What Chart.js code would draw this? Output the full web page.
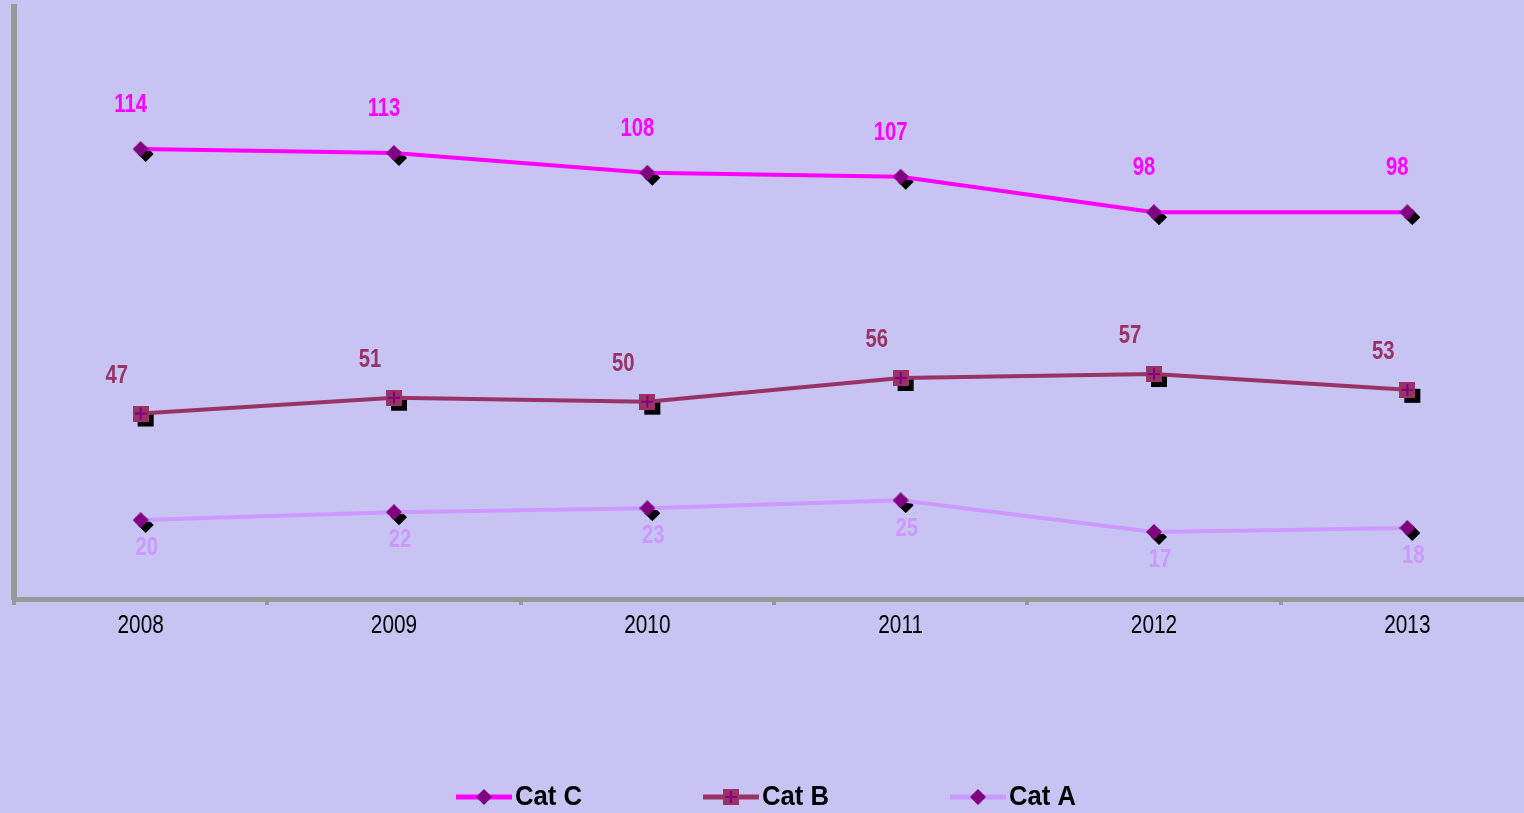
<!DOCTYPE html>
<html>
<head>
<meta charset="utf-8">
<title>Cat A / Cat B / Cat C 2008-2013</title>
<script src="https://cdn.jsdelivr.net/npm/chart.js@4.4.1/dist/chart.umd.min.js"></script>
<style>
  html, body { margin: 0; padding: 0; overflow: hidden; background: #c7c4f4; }
  canvas { display: block; }
</style>
</head>
<body>
<canvas id="catChart" width="1534" height="813"></canvas>
<script>
const years = ["2008", "2009", "2010", "2011", "2012", "2013"];
const catC = [114, 113, 108, 107, 98, 98];
const catB = [47, 51, 50, 56, 57, 53];
const catA = [20, 22, 23, 25, 17, 18];

const textFont = "'Liberation Sans', Arial, sans-serif";

// squeezed text, gives a narrow face out of Liberation Sans
function narrowText(ctx, text, x, y, size, bold, squeeze, color, align) {
    ctx.save();
    ctx.translate(x, y);
    ctx.scale(squeeze, 1);
    ctx.font = (bold ? 'bold ' : '') + size + 'px ' + textFont;
    ctx.fillStyle = color;
    ctx.textAlign = align;
    ctx.textBaseline = 'middle';
    ctx.fillText(text, 0, 0);
    ctx.restore();
}

function makeDiamond() {
    const c = document.createElement('canvas');
    c.width = 16;
    c.height = 16;
    const g = c.getContext('2d');
    g.fillStyle = '#800080';
    g.beginPath();
    g.moveTo(8, 0);
    g.lineTo(16, 8);
    g.lineTo(8, 16);
    g.lineTo(0, 8);
    g.closePath();
    g.fill();
    return c;
}

// square marker with a cross, used by Cat B
function makeCrossSquare() {
    const c = document.createElement('canvas');
    c.width = 16;
    c.height = 16;
    const g = c.getContext('2d');
    g.fillStyle = '#993366';
    g.fillRect(0, 0, 16, 16);
    g.fillStyle = '#800080';
    g.fillRect(7, 2, 2, 12);
    g.fillRect(2, 7, 12, 2);
    return c;
}
const diamond = makeDiamond();
const crossSquare = makeCrossSquare();

// black drop shadow behind every marker
const markerShadow = {
    id: 'markerShadow',
    beforeDatasetDraw(chart, args) {
        const ctx = chart.ctx;
        const ds = chart.data.datasets[args.index];
        ctx.save();
        ctx.fillStyle = '#000';
        args.meta.data.forEach(function(pt) {
            const x = pt.x + 5, y = pt.y + 5;
            if (ds.pointStyle === diamond) {
                ctx.beginPath();
                ctx.moveTo(x, y - 8);
                ctx.lineTo(x + 8, y);
                ctx.lineTo(x, y + 8);
                ctx.lineTo(x - 8, y);
                ctx.closePath();
                ctx.fill();
            } else {
                ctx.fillRect(x - 8, y - 6, 16, 14);
            }
        });
        ctx.restore();
    }
};

// value labels next to each point, plus the year labels under the axis
const chartText = {
    id: 'chartText',
    afterDatasetsDraw(chart) {
        const ctx = chart.ctx;
        chart.data.datasets.forEach(function(ds, i) {
            const meta = chart.getDatasetMeta(i);
            meta.data.forEach(function(pt, j) {
                narrowText(ctx, String(ds.data[j]), pt.x + ds.labelDx, pt.y + ds.labelDy,
                    26, true, 0.78, ds.labelColor, 'center');
            });
        });
        const xScale = chart.scales.x;
        chart.data.labels.forEach(function(lab, i) {
            narrowText(ctx, lab, xScale.getPixelForTick(i), 626, 26, false, 0.8, '#000', 'center');
        });
    }
};

// legend along the bottom: line sample with marker, then the name
const bottomLegend = {
    id: 'bottomLegend',
    afterDraw(chart) {
        const ctx = chart.ctx;
        const y = 797;
        ctx.save();
        chart.data.datasets.forEach(function(ds, i) {
            const x = 456 + i * 247;
            ctx.strokeStyle = ds.borderColor;
            ctx.lineWidth = 5;
            ctx.beginPath();
            ctx.moveTo(x, y);
            ctx.lineTo(x + 56, y);
            ctx.stroke();
            ctx.drawImage(ds.pointStyle, x + 20, y - 8);
            narrowText(ctx, ds.label, x + 59, y + 1, 27, true, 0.95, '#000', 'left');
        });
        ctx.restore();
    }
};

const chartData = {
    labels: years,
    datasets: [{
        label: 'Cat C',
        data: catC,
        borderColor: '#ff00ff',
        borderWidth: 4,
        pointStyle: diamond,
        pointRadius: 8,
        labelColor: '#ff00ff',
        labelDx: -10,
        labelDy: -44
    }, {
        label: 'Cat B',
        data: catB,
        borderColor: '#993366',
        borderWidth: 4,
        pointStyle: crossSquare,
        pointRadius: 8,
        labelColor: '#993366',
        labelDx: -24,
        labelDy: -38
    }, {
        label: 'Cat A',
        data: catA,
        borderColor: '#cc99ff',
        borderWidth: 4,
        pointStyle: diamond,
        pointRadius: 8,
        labelColor: '#cc99ff',
        labelDx: 6,
        labelDy: 28
    }]
};

new Chart(document.getElementById('catChart'), {
    type: 'line',
    data: chartData,
    plugins: [markerShadow, chartText, bottomLegend],
    options: {
        responsive: false,
        animation: false,
        layout: { autoPadding: false, padding: { top: 7, left: 0, right: 0, bottom: 0 } },
        plugins: {
            legend: { display: false },
            tooltip: { enabled: false }
        },
        elements: { line: { tension: 0 } },
        scales: {
            x: {
                offset: true,
                grid: {
                    offset: true,
                    drawOnChartArea: false,
                    drawTicks: true,
                    tickLength: 6,
                    color: '#999999',
                    lineWidth: 4
                },
                border: { display: true, color: '#999999', width: 5 },
                ticks: { display: false },
                afterFit(scale) { scale.height = 214; }
            },
            y: {
                min: 0,
                max: 150,
                grid: { display: false },
                border: { display: true, color: '#999999', width: 6 },
                ticks: { display: false },
                afterFit(scale) { scale.width = 14; }
            }
        }
    }
});
</script>
</body>
</html>
